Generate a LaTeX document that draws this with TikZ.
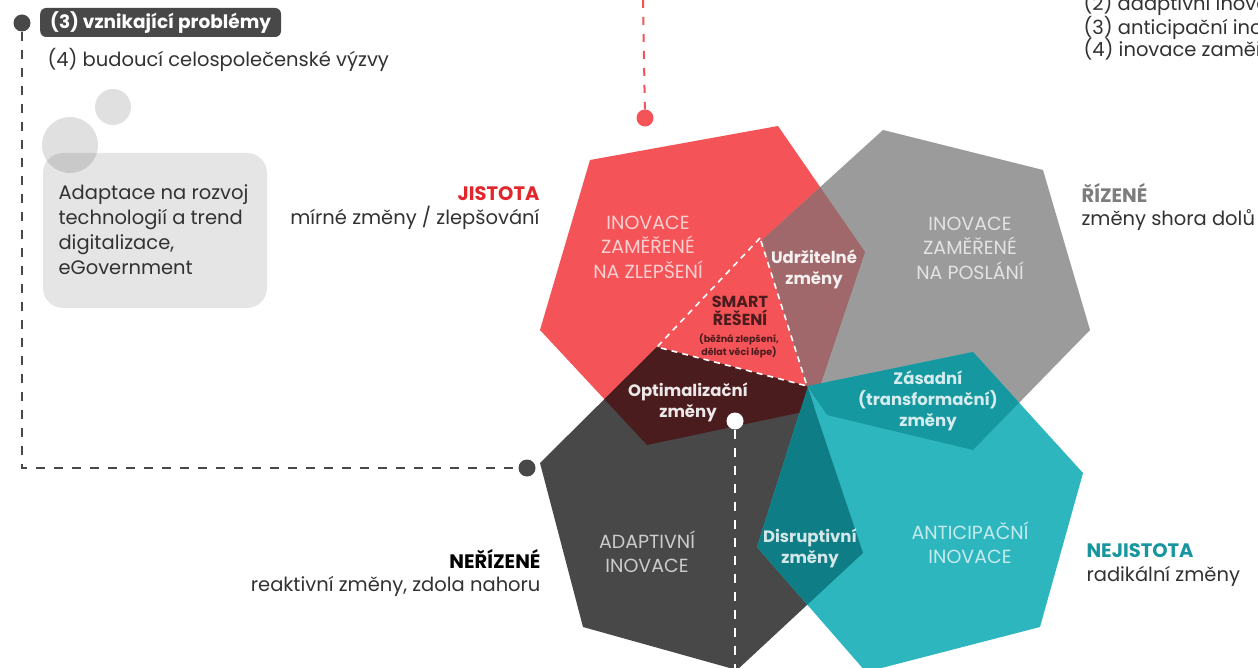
\documentclass[tikz,border=0pt]{standalone}
\usepackage{fontspec}
\setmainfont{Poppins}
\usetikzlibrary{calc}
\definecolor{redfill}{RGB}{244,84,88}
\definecolor{grayfill}{RGB}{155,155,155}
\definecolor{darkfill}{RGB}{72,72,72}
\definecolor{cyanfill}{RGB}{46,182,190}
\definecolor{mauvefill}{RGB}{160,104,106}
\definecolor{maroonfill}{RGB}{75,28,30}
\definecolor{tealfill}{RGB}{22,152,160}
\definecolor{darktealfill}{RGB}{14,125,133}
\definecolor{jistred}{RGB}{226,38,44}
\definecolor{nejteal}{RGB}{24,150,160}
\definecolor{rizgray}{RGB}{125,125,125}
\definecolor{txtdark}{RGB}{50,50,50}
\newcommand\setfs[2]{\fontsize{#1}{#2}\selectfont}
\tikzset{
  shapelab/.style={align=center, text=white, text opacity=0.72, font=\setfs{19}{24.5}},
  overlab/.style={align=center, font=\bfseries\setfs{16.5}{21}},
  sidelab/.style={font=\setfs{19.5}{23.5}, text=txtdark},
  dot/.style={circle, inner sep=0pt, minimum size=17pt},
  dashline/.style={line width=2pt, dash pattern=on 9pt off 9pt},
}
\begin{document}
\begin{tikzpicture}[x=1pt,y=-1pt]
    \useasboundingbox[fill=white] (0,0) rectangle (1258,668);
    % left box with bubbles
    \fill[black, fill opacity=0.1, rounded corners=20pt] (43,153) rectangle (267,308);
    \fill[black, fill opacity=0.12] (70,145) circle (28);
    \fill[black, fill opacity=0.12] (113,107) circle (18);
    \node[align=left, anchor=west, text=txtdark, font=\setfs{19.5}{25}] (techtext) at (55,230)
      {Adaptace na rozvoj\\technologií a trend\\digitalizace,\\eGovernment};
    %
    \node[dot, fill=darkfill] (topdot) at (22,23) {};
    \node[dot, fill=darkfill] (leftdot) at (527,468) {};
    \draw[dashline, darkfill] (topdot) |- (leftdot);
    \node[anchor=west, fill=darkfill, rounded corners=6pt, text=white, font=\bfseries\setfs{18.5}{20},
      minimum height=29pt, inner xsep=10pt] (probbox) at (40,22.5) {(3) vznikající problémy};
    \node[sidelab, anchor=west] (futuretext) at (44,60) {(4) budoucí celospolečenské výzvy};
    %
    \node[sidelab, anchor=base west] (list2) at (1080,11) {(2) adaptivní inovace};
    \node[sidelab, anchor=base west] (list3) at (1080,35) {(3) anticipační inovace};
    \node[sidelab, anchor=base west] (list4) at (1080,57) {(4) inovace zaměřené na poslání};
    %
    \node[dot, fill=redfill] (reddot) at (645,118) {};
    \coordinate (redtop) at (643,0);
    \draw[dashline, redfill, dash pattern=on 8pt off 9pt] (redtop) -- (reddot);
    % the four shapes
    \path[save path=\pred] (590,160) -- (778,126) -- (865,252) -- (812,410) -- (647,445) -- (540,330) -- cycle;
    \path[save path=\pgray] (883,130) -- (1043,170) -- (1090,330) -- (973,450) -- (827,415) -- (806,384) -- (762,240) -- cycle;
    \path[save path=\pdark] (540,463) -- (657,347) -- (807,386) -- (863,553) -- (737,670) -- (583,627) -- cycle;
    \path[save path=\pcyan] (808,386) -- (973,352) -- (1083,473) -- (1040,627) -- (866,672) -- (757,547) -- cycle;
    \path[use path=\pred, fill=redfill];
    \path[use path=\pgray, fill=grayfill];
    \path[use path=\pdark, fill=darkfill];
    \path[use path=\pcyan, fill=cyanfill];
    \begin{scope}
      \clip[use path=\pred];
      \path[use path=\pgray, fill=mauvefill];
      \path[use path=\pdark, fill=maroonfill];
    \end{scope}
    \begin{scope}
      \clip[use path=\pcyan];
      \path[use path=\pgray, fill=tealfill];
      \path[use path=\pdark, fill=darktealfill];
    \end{scope}
    \draw[white, line width=1.6pt, dash pattern=on 6pt off 5pt] (760,238) -- (657,347) -- (807,386) -- cycle;
    %
    \node[dot, fill=white] (whitedot) at (735,421) {};
    \coordinate (whitebot) at (735,668);
    \draw[dashline, white] (whitedot) -- (whitebot);
    % labels in the shapes
    \node[shapelab] (zlepseni) at (648,247) {INOVACE\\ZAMĚŘENÉ\\NA ZLEPŠENÍ};
    \node[shapelab] (poslani) at (970,248) {INOVACE\\ZAMĚŘENÉ\\NA POSLÁNÍ};
    \node[shapelab] (adaptivni) at (647,552) {ADAPTIVNÍ\\INOVACE};
    \node[shapelab] (anticipacni) at (970,543) {ANTICIPAČNÍ\\INOVACE};
    \node[overlab, text=white, text opacity=0.9] (udrzitelne) at (814,269) {Udržitelné\\změny};
    \node[overlab, text=maroonfill, font=\bfseries\setfs{16}{17.5}] (smart) at (740,311) {SMART\\ŘEŠENÍ};
    \node[align=center, text=maroonfill, font=\bfseries\setfs{9.5}{13}] (smartnote) at (739,346)
      {(běžná zlepšení,\\dělat věci lépe)};
    \node[overlab, text=white, text opacity=0.9] (optimal) at (688,402) {Optimalizační\\změny};
    \node[overlab, text=white, text opacity=0.82] (zasadni) at (928,401) {Zásadní\\(transformační)\\změny};
    \node[overlab, text=white, text opacity=0.82] (disrupt) at (810,548) {Disruptivní\\změny};
    % side labels
    \node[sidelab, align=right, anchor=east] (jistota) at (543,208)
      {{\bfseries\color{jistred}JISTOTA}\\mírné změny / zlepšování};
    \node[sidelab, align=left, anchor=west] (rizene) at (1078,207)
      {{\bfseries\color{rizgray}ŘÍZENÉ}\\změny shora dolů};
    \node[sidelab, align=right, anchor=east] (nerizene) at (544,573)
      {{\bfseries\color{black}NEŘÍZENÉ}\\reaktivní změny, zdola nahoru};
    \node[sidelab, align=left, anchor=west] (nejistota) at (1083,565)
      {{\bfseries\color{nejteal}NEJISTOTA}\\radikální změny};
  \end{tikzpicture}
\end{document}
